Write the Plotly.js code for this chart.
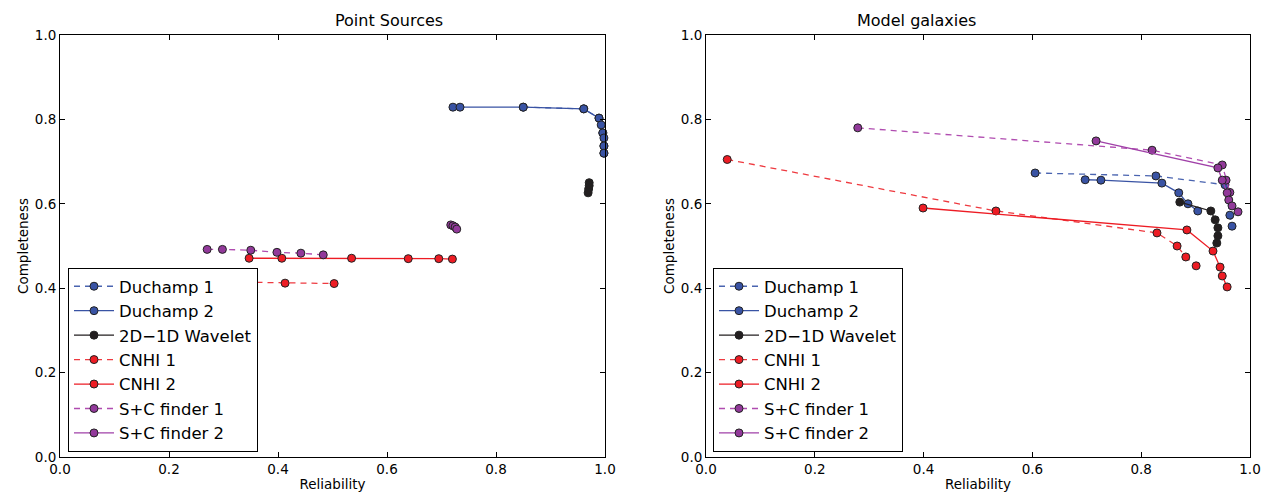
<!DOCTYPE html>
<html><head><meta charset="utf-8">
<script src="https://cdn.plot.ly/plotly-3.0.1.min.js"></script>
<style>body{margin:0;background:#fff}#c{width:1262px;height:492px}</style>
</head><body><div id="c"></div>
<script>
// ---- Point Sources (left) ----
const psDuchamp1X = [0.850, 0.961, 0.989, 0.996, 0.998, 0.998];
const psDuchamp1Y = [0.829, 0.825, 0.803, 0.768, 0.737, 0.720];
const psDuchamp2X = [0.721, 0.734, 0.850, 0.961, 0.989, 0.993, 0.996, 0.998, 0.998, 0.998];
const psDuchamp2Y = [0.829, 0.829, 0.829, 0.825, 0.803, 0.787, 0.768, 0.756, 0.737, 0.720];
const psWaveletX = [0.971, 0.971, 0.970, 0.969];
const psWaveletY = [0.650, 0.643, 0.635, 0.626];
const psCnhi1X = [0.300, 0.413, 0.503];
const psCnhi1Y = [0.415, 0.412, 0.411];
const psCnhi2X = [0.347, 0.407, 0.535, 0.639, 0.695, 0.720];
const psCnhi2Y = [0.471, 0.471, 0.471, 0.470, 0.470, 0.469];
const psSC1X = [0.270, 0.298, 0.350, 0.398, 0.442, 0.483];
const psSC1Y = [0.492, 0.492, 0.490, 0.485, 0.483, 0.479];
const psSC2X = [0.717, 0.721, 0.725, 0.728];
const psSC2Y = [0.550, 0.548, 0.545, 0.540];

// ---- Model galaxies (right) ----
const mgDuchamp1X = [0.605, 0.827, 0.954, 0.963, 0.967];
const mgDuchamp1Y = [0.673, 0.666, 0.645, 0.573, 0.547];
const mgDuchamp2X = [0.697, 0.726, 0.838, 0.869, 0.886, 0.904];
const mgDuchamp2Y = [0.657, 0.656, 0.649, 0.626, 0.600, 0.583];
const mgWaveletX = [0.871, 0.928, 0.936, 0.941, 0.941, 0.939];
const mgWaveletY = [0.604, 0.583, 0.562, 0.543, 0.524, 0.507];
const mgCnhi1X = [0.039, 0.533, 0.829, 0.866, 0.882, 0.901];
const mgCnhi1Y = [0.705, 0.583, 0.531, 0.500, 0.474, 0.453];
const mgCnhi2X = [0.399, 0.884, 0.932, 0.945, 0.949, 0.958];
const mgCnhi2Y = [0.590, 0.538, 0.488, 0.450, 0.429, 0.403];
const mgSC1X = [0.279, 0.820, 0.949, 0.956, 0.963];
const mgSC1Y = [0.780, 0.727, 0.692, 0.656, 0.627];
const mgSC2X = [0.717, 0.941, 0.949, 0.958, 0.961, 0.967, 0.978];
const mgSC2Y = [0.749, 0.685, 0.656, 0.626, 0.609, 0.595, 0.581];

const names = ["Duchamp 1", "Duchamp 2", "2D\u22121D Wavelet", "CNHI 1", "CNHI 2", "S+C finder 1", "S+C finder 2"];

const colBlue = "#3953a4", colBlack = "#231f20", colRed = "#ed1c24", colPurple = "#92399a";
const styles = [
  {c: colBlue, l: "#4a64b0", dash: "dash"},
  {c: colBlue, l: "#3953a4", dash: "solid"},
  {c: colBlack, l: "#231f20", dash: "solid"},
  {c: colRed, l: "#ee3a40", dash: "dash"},
  {c: colRed, l: "#ed1c24", dash: "solid"},
  {c: colPurple, l: "#b04cb0", dash: "dash"},
  {c: colPurple, l: "#a040a8", dash: "solid"}
];

const leftSets = [[psDuchamp1X, psDuchamp1Y],[psDuchamp2X, psDuchamp2Y],[psWaveletX, psWaveletY],[psCnhi1X, psCnhi1Y],[psCnhi2X, psCnhi2Y],[psSC1X, psSC1Y],[psSC2X, psSC2Y]];
const rightSets = [[mgDuchamp1X, mgDuchamp1Y],[mgDuchamp2X, mgDuchamp2Y],[mgWaveletX, mgWaveletY],[mgCnhi1X, mgCnhi1Y],[mgCnhi2X, mgCnhi2Y],[mgSC1X, mgSC1Y],[mgSC2X, mgSC2Y]];

function mk(set, i, xa, ya, leg) {
  const s = styles[i];
  return {
    x: set[0], y: set[1], xaxis: xa, yaxis: ya, legend: leg,
    type: "scatter", mode: "lines+markers", name: names[i],
    line: {color: s.l, width: 1.3, dash: s.dash === "dash" ? "6px,5px" : "solid"},
    marker: {color: s.c, size: 8, line: {color: "#222", width: 1}},
    cliponaxis: false
  };
}
const traces = [];
leftSets.forEach((s, i) => traces.push(mk(s, i, "x", "y", "legend")));
rightSets.forEach((s, i) => traces.push(mk(s, i, "x2", "y2", "legend2")));

const W = 1262, H = 492;
const axBase = {
  range: [0, 1], tickvals: [0, 0.2, 0.4, 0.6, 0.8, 1.0], tickformat: ".1f",
  ticks: "inside", ticklen: 5, tickcolor: "#000", showline: true, linecolor: "#000", linewidth: 1,
  mirror: "ticks", showgrid: false, zeroline: false,
  tickfont: {family: "DejaVu Sans", size: 13.5, color: "#000"}
};
function ax(extra) { return Object.assign({}, JSON.parse(JSON.stringify(axBase)), extra); }

const legBase = {
  bgcolor: "#fff", bordercolor: "#000", borderwidth: 1,
  font: {family: "DejaVu Sans", size: 16.5, color: "#000"},
  xanchor: "left", yanchor: "top", tracegroupgap: 0, itemwidth: 40
};

const layout = {
  width: W, height: H, margin: {l: 0, r: 0, t: 35, b: 35},
  paper_bgcolor: "#fff", plot_bgcolor: "#fff", showlegend: true,
  font: {family: "DejaVu Sans", color: "#000"},
  xaxis: ax({domain: [60/W, 605/W], anchor: "y", title: {text: "Reliability", font: {size: 13.5}, standoff: 3}}),
  yaxis: ax({domain: [0, 1], anchor: "x", title: {text: "Completeness", font: {size: 13.5}, standoff: 3}}),
  xaxis2: ax({domain: [706/W, 1250/W], anchor: "y2", title: {text: "Reliability", font: {size: 13.5}, standoff: 3}}),
  yaxis2: ax({domain: [0, 1], anchor: "x2", title: {text: "Completeness", font: {size: 13.5}, standoff: 3}}),
  legend: Object.assign({}, legBase, {x: 68/W, y: (457-268)/422}),
  legend2: Object.assign({}, legBase, {x: 713/W, y: (457-268)/422}),
  annotations: [
    {text: "Point Sources", xref: "paper", yref: "paper", x: (60+605)/2/W, y: 1, yanchor: "bottom", yshift: 3, showarrow: false, font: {family: "DejaVu Sans", size: 16, color: "#000"}},
    {text: "Model galaxies", xref: "paper", yref: "paper", x: (706+1250)/2/W, y: 1, yanchor: "bottom", yshift: 3, showarrow: false, font: {family: "DejaVu Sans", size: 16, color: "#000"}}
  ]
};
Plotly.newPlot("c", traces, layout, {staticPlot: true});
</script></body></html>
